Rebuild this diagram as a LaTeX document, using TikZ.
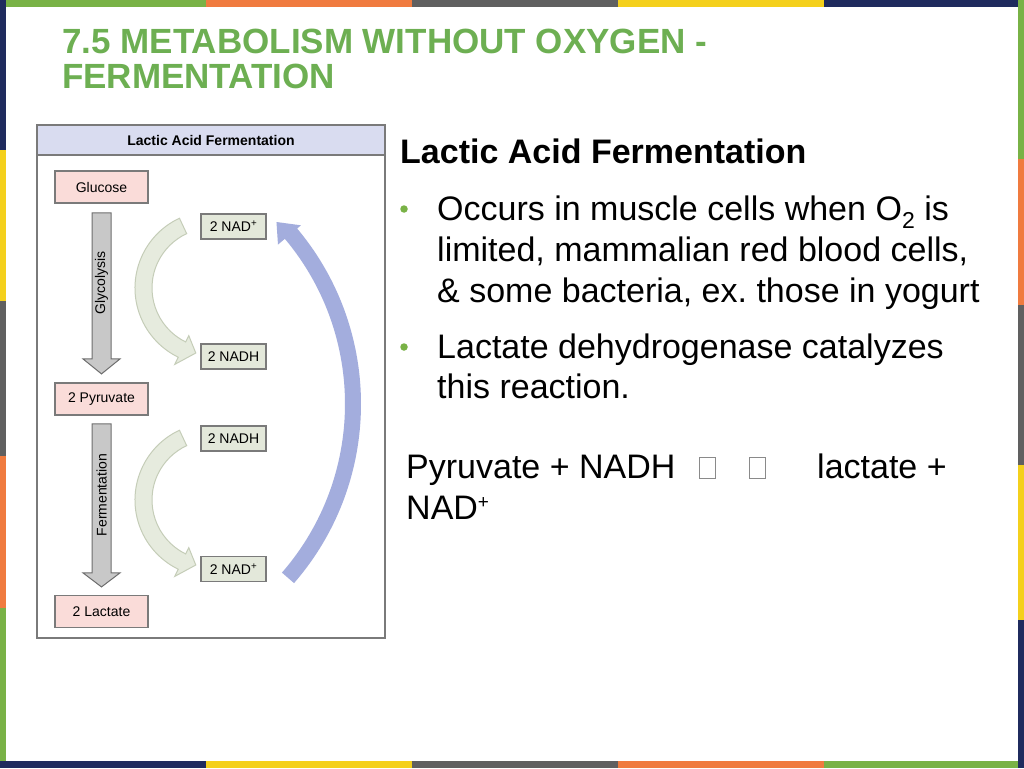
\documentclass[tikz,border=0pt]{standalone}
\usepackage{fontspec}
\setmainfont{Liberation Sans}
\usetikzlibrary{calc}
\frenchspacing
\definecolor{bgreen}{HTML}{79B246}
\definecolor{borange}{HTML}{F07B3F}
\definecolor{bgray}{HTML}{606060}
\definecolor{byellow}{HTML}{F4D01C}
\definecolor{bnavy}{HTML}{1F2B5E}
\definecolor{titlegreen}{HTML}{6DAF52}
\definecolor{framegray}{HTML}{7A7A7A}
\definecolor{headfill}{HTML}{D9DCF0}
\definecolor{pinkfill}{HTML}{FADCD9}
\definecolor{nadfill}{HTML}{E3E8DA}
\definecolor{arcfill}{HTML}{E6EBDE}
\definecolor{arcline}{HTML}{C5CDB8}
\definecolor{bluearc}{HTML}{A3ADDD}
\definecolor{shaftfill}{HTML}{C8C8C8}
\definecolor{shaftline}{HTML}{6E6E6E}
\definecolor{tofu}{HTML}{8A8A8A}
\begin{document}
\begin{tikzpicture}[x=1pt,y=-1pt,
  pinkbox/.style={draw=framegray, line width=1.8pt, fill=pinkfill, minimum width=93pt, minimum height=32pt, inner sep=0pt, font=\fontsize{14}{16}\selectfont},
  nadbox/.style={draw=framegray, line width=1.8pt, fill=nadfill, minimum width=65pt, minimum height=25pt, inner sep=0pt, font=\fontsize{14}{16}\selectfont},
  bodytext/.style={anchor=base west, inner sep=0pt, font=\fontsize{34}{40}\selectfont},
  titletext/.style={anchor=base west, inner sep=0pt, text=titlegreen, font=\fontsize{35}{40}\selectfont\bfseries},
  grayarrow/.style={draw=shaftline, fill=shaftfill, line width=1pt, line join=miter},
  greenarc/.style={draw=arcline, fill=arcfill, line width=1pt},
  bulletdot/.style={circle, fill=bgreen, inner sep=0pt, minimum size=7.5pt},
  tofubox/.style={draw=tofu, line width=1pt, inner sep=0pt, minimum width=16pt, minimum height=21pt},
  sidelabel/.style={rotate=90, inner sep=0pt, font=\fontsize{14}{16}\selectfont}
]
\useasboundingbox (0,0) rectangle (1024,768);
\fill[white] (0,0) rectangle (1024,768);
% ---- coloured border ----
\fill[bnavy]   (0,0) rectangle (6,150);
\fill[byellow] (0,150) rectangle (6,301);
\fill[bgray]   (0,301) rectangle (6,456);
\fill[borange] (0,456) rectangle (6,608);
\fill[bgreen]  (0,608) rectangle (6,768);
\fill[bgreen]  (6,0) rectangle (206,7);
\fill[borange] (206,0) rectangle (412,7);
\fill[bgray]   (412,0) rectangle (618,7);
\fill[byellow] (618,0) rectangle (824,7);
\fill[bnavy]   (824,0) rectangle (1018,7);
\fill[bgreen]  (1018,0) rectangle (1024,159);
\fill[borange] (1018,159) rectangle (1024,305);
\fill[bgray]   (1018,305) rectangle (1024,465);
\fill[byellow] (1018,465) rectangle (1024,620);
\fill[bnavy]   (1018,620) rectangle (1024,768);
\fill[bnavy]   (0,761) rectangle (206,768);
\fill[byellow] (206,761) rectangle (412,768);
\fill[bgray]   (412,761) rectangle (618,768);
\fill[borange] (618,761) rectangle (824,768);
\fill[bgreen]  (824,761) rectangle (1018,768);
% ---- title ----
\node[titletext] (t1) at (62,53) {7.5 METABOLISM WITHOUT OXYGEN -};
\node[titletext] (t2) at (62,88) {FERMENTATION};
% ---- diagram frame ----
\fill[headfill] (37,125) rectangle (385,155);
\draw[framegray, line width=1.8pt] (37,155) -- (385,155);
\draw[framegray, line width=2.5pt] (37,125) rectangle (385,638);
\node[inner sep=0pt, font=\fontsize{14}{16}\selectfont\bfseries] (head) at (211,140) {Lactic Acid Fermentation};
% ---- boxes ----
\node[pinkbox] (glu) at (101.5,187) {Glucose};
\node[pinkbox] (pyr) at (101.5,399) {2 Pyruvate};
\node[pinkbox] (lac) at (101.5,611.5) {2 Lactate};
\node[nadbox] (nad1) at (233.5,226.5) {2 NAD\textsuperscript{+}};
\node[nadbox] (nadh1) at (233.5,356.5) {2 NADH};
\node[nadbox] (nadh2) at (233.5,438.5) {2 NADH};
\node[nadbox] (nad2) at (233.5,569) {2 NAD\textsuperscript{+}};
% ---- gray down arrows ----
\draw[grayarrow] ($(glu.south)+(-9.5,9)$) -- ++(19,0) -- ++(0,146) -- ++(9,0) -- ++(-18.5,15) -- ++(-18.5,-15) -- ++(9,0) -- cycle;
\draw[grayarrow] ($(pyr.south)+(-9.5,8)$) -- ++(19,0) -- ++(0,149) -- ++(9,0) -- ++(-18.5,14) -- ++(-18.5,-14) -- ++(9,0) -- cycle;
\node[sidelabel] (gly) at (101.5,283) {Glycolysis};
\node[sidelabel] (fer) at (101.5,495) {Fermentation};
% ---- green curved arrows ----
\begin{scope}[shift={(212,288)}]
\filldraw[greenarc] (245:77) arc[start angle=245, end angle=116, radius=77] -- (116:85) -- (104:67) -- (116:53) -- (116:60) arc[start angle=116, end angle=245, radius=60] -- cycle;
\end{scope}
\begin{scope}[shift={(212,500)}]
\filldraw[greenarc] (245:77) arc[start angle=245, end angle=116, radius=77] -- (116:85) -- (104:67) -- (116:53) -- (116:60) arc[start angle=116, end angle=245, radius=60] -- cycle;
\end{scope}
% ---- blue return arrow ----
\begin{scope}[shift={(88,404)}]
\fill[bluearc] (41:257) arc[start angle=41, end angle=-40, radius=257] -- (-40:248) -- (-44:262) -- (-40:278) -- (-40:273) arc[start angle=-40, end angle=41, radius=273] -- cycle;
\end{scope}
% ---- right text ----
\node[bodytext, font=\fontsize{34}{40}\selectfont\bfseries] (h) at (400,163) {Lactic Acid Fermentation};
\node[bulletdot] (b1) at (404,209) {};
\node[bodytext] (l1) at (437,220) {Occurs in muscle cells when O\raisebox{-8pt}{\fontsize{23}{23}\selectfont 2} is};
\node[bodytext] (l2) at (437,261) {limited, mammalian red blood cells,};
\node[bodytext] (l3) at (437,302) {\& some bacteria, ex. those in yogurt};
\node[bulletdot] (b2) at (404,347) {};
\node[bodytext] (l4) at (437,358) {Lactate dehydrogenase catalyzes};
\node[bodytext] (l5) at (437,398) {this reaction.};
\node[bodytext] (e1) at (406,478) {Pyruvate + NADH};
\node[tofubox] (x1) at (707,468) {};
\node[tofubox] (x2) at (757.5,468) {};
\node[bodytext] (e2) at (817,478) {lactate +};
\node[bodytext] (e3) at (406,519) {NAD\raisebox{11pt}{\fontsize{19}{19}\selectfont +}};
\end{tikzpicture}
\end{document}
